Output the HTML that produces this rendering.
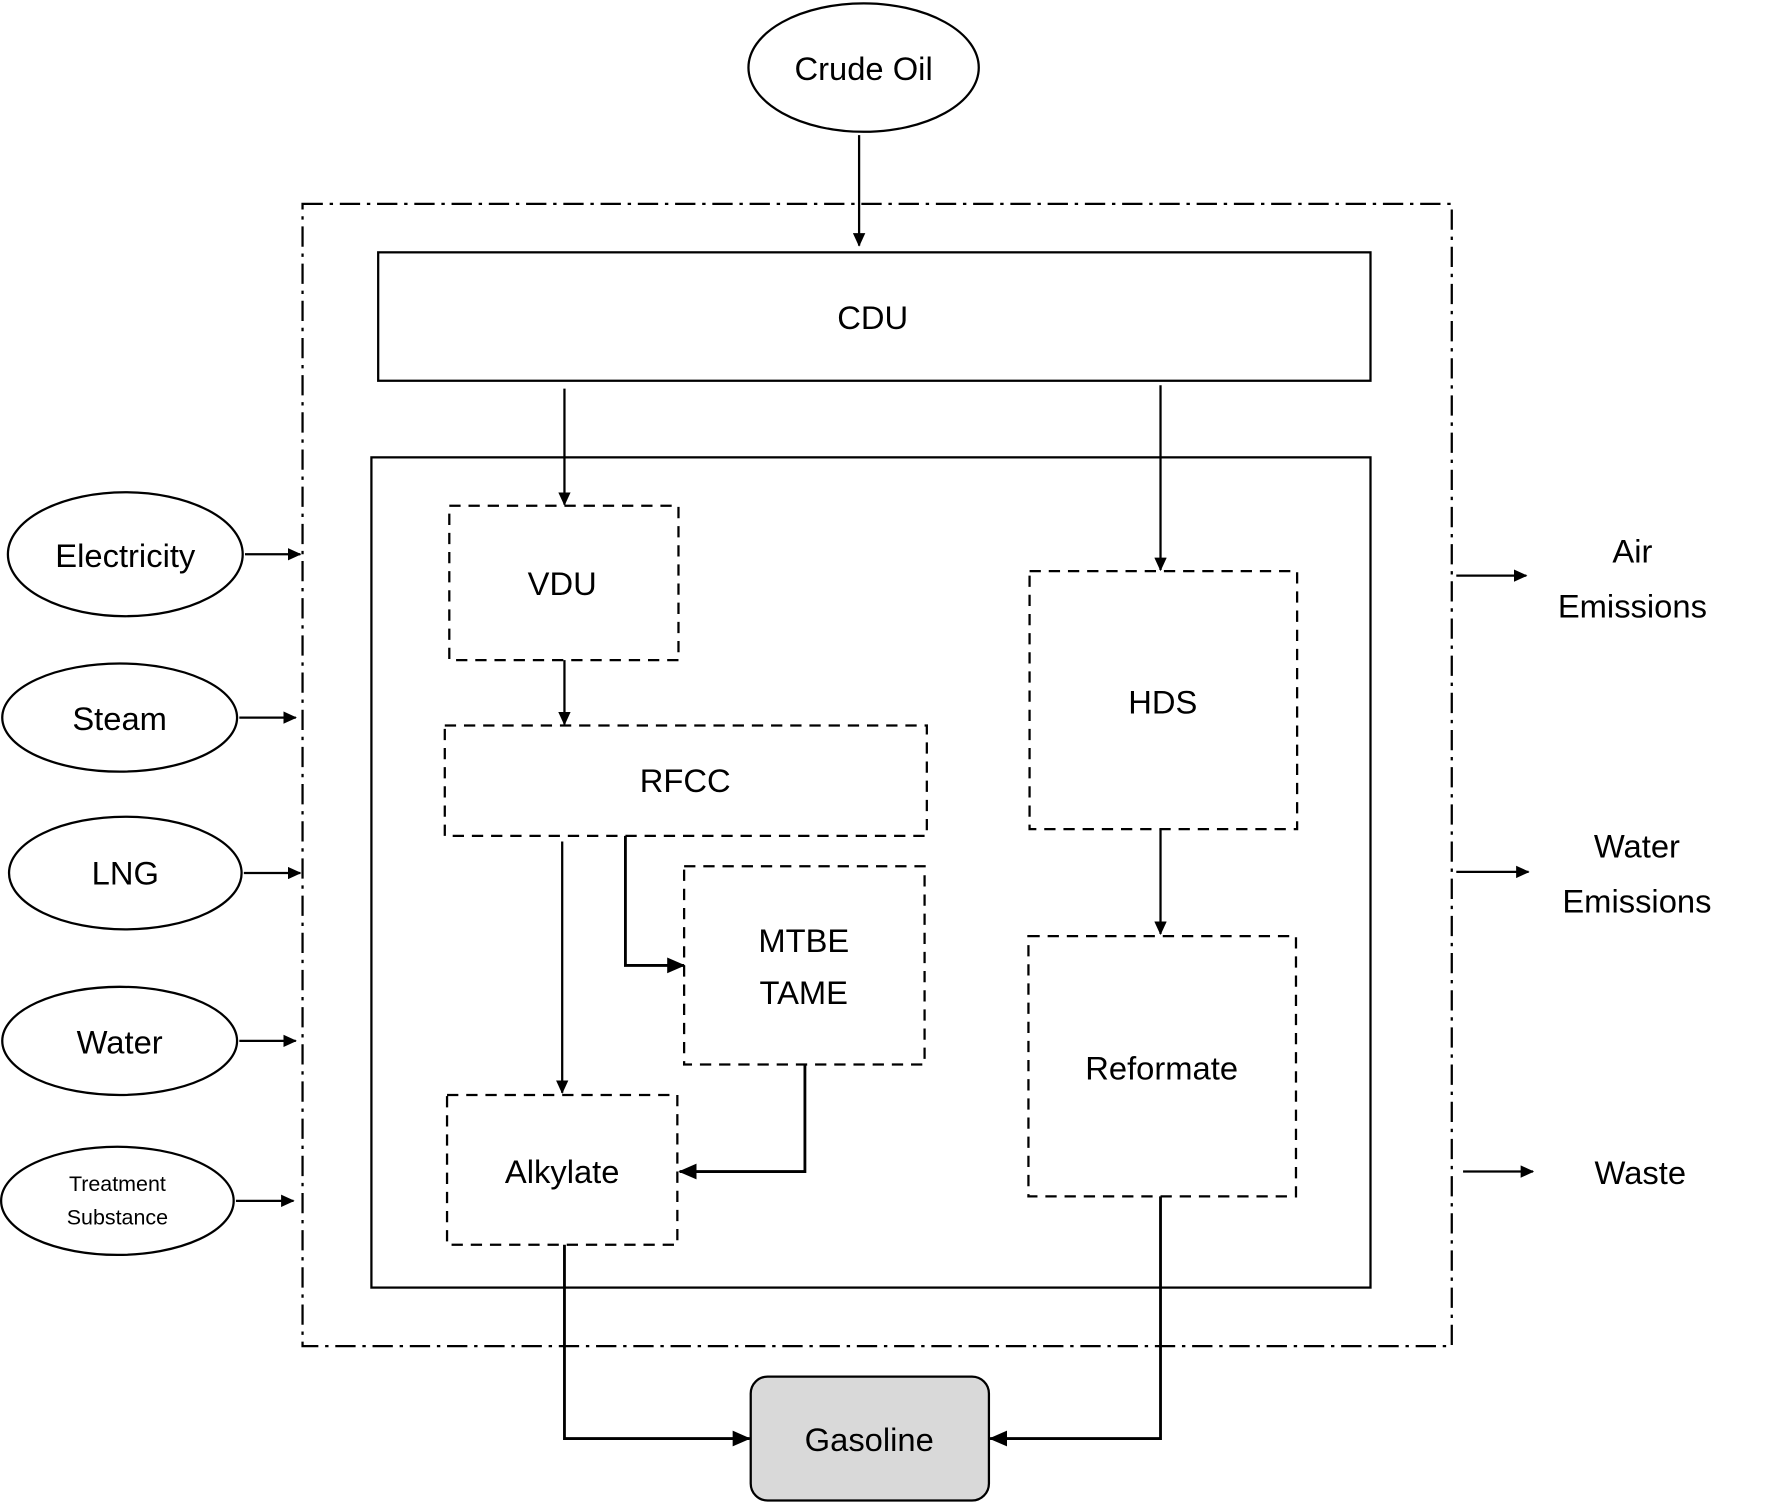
<!DOCTYPE html>
<html><head><meta charset="utf-8"><style>html,body{margin:0;padding:0;background:#fff}svg{display:block}text{font-family:"Liberation Sans",sans-serif;fill:#000;text-anchor:middle;dominant-baseline:central}</style></head>
<body>
<svg width="1769" height="1505" viewBox="0 0 1567 1336" preserveAspectRatio="none" xmlns="http://www.w3.org/2000/svg">
<defs><marker id="a" markerWidth="12" markerHeight="11" refX="11" refY="5.5" orient="auto" markerUnits="userSpaceOnUse"><path d="M0,0 L12,5.5 L0,11 z" fill="#000"/></marker>
<marker id="b" markerWidth="16" markerHeight="14" refX="15" refY="7" orient="auto" markerUnits="userSpaceOnUse"><path d="M0,0 L16,7 L0,14 z" fill="#000"/></marker></defs>
<g fill="none" stroke="#000" stroke-width="2">
<ellipse cx="765" cy="60" rx="102" ry="57"/>
<rect x="268" y="181" width="1018" height="1014" stroke-dasharray="18,6,3,6"/>
<rect x="335" y="224" width="879" height="114"/>
<rect x="329" y="406" width="885" height="737"/>
<g stroke-dasharray="10,7">
<rect x="398" y="449" width="203" height="137"/>
<rect x="394" y="644" width="427" height="98"/>
<rect x="912" y="507" width="237" height="229"/>
<rect x="911" y="831" width="237" height="231"/>
<rect x="606" y="769" width="213" height="176"/>
<rect x="396" y="972" width="204" height="133"/>
</g>
<rect x="665" y="1222" width="211" height="110" rx="15" fill="#d9d9d9"/>
<ellipse cx="111" cy="492" rx="104" ry="55"/>
<ellipse cx="106" cy="637" rx="104" ry="48"/>
<ellipse cx="111" cy="775" rx="103" ry="50"/>
<ellipse cx="106" cy="924" rx="104" ry="48"/>
<ellipse cx="104" cy="1066" rx="103" ry="48"/>
<g marker-end="url(#a)">
<path d="M761,120 V218"/>
<path d="M500,345 V448"/>
<path d="M1028,342 V506"/>
<path d="M500,586 V643"/>
<path d="M1028,736 V829"/>
<path d="M498,747 V970"/>
<path d="M217,492 H266"/><path d="M212,637 H262"/><path d="M216,775 H266"/><path d="M212,924 H262"/><path d="M209,1066 H260"/>
<path d="M1290,511 H1352"/><path d="M1290,774 H1354"/><path d="M1296,1040 H1358"/>
</g>
<g marker-end="url(#b)" stroke-width="2.5">
<path d="M554,742 V857 H606"/>
<path d="M713,945 V1040 H602"/>
<path d="M500,1105 V1277 H664"/>
<path d="M1028,1062 V1277 H877"/>
</g>
</g>
<g font-size="29">
<text x="765" y="61">Crude Oil</text>
<text x="773" y="282">CDU</text>
<text x="498" y="518">VDU</text>
<text x="607" y="693">RFCC</text>
<text x="1030" y="623">HDS</text>
<text x="1029" y="948">Reformate</text>
<text x="712" y="835">MTBE</text>
<text x="712" y="881">TAME</text>
<text x="498" y="1040">Alkylate</text>
<text x="770" y="1278">Gasoline</text>
<text x="111" y="493">Electricity</text>
<text x="106" y="638">Steam</text>
<text x="111" y="775">LNG</text>
<text x="106" y="925">Water</text>
<text x="1446" y="489">Air</text>
<text x="1446" y="538">Emissions</text>
<text x="1450" y="751">Water</text>
<text x="1450" y="800">Emissions</text>
<text x="1453" y="1041">Waste</text>
</g>
<text x="104" y="1051" font-size="19">Treatment</text>
<text x="104" y="1081" font-size="19">Substance</text>
</svg>
</body></html>
